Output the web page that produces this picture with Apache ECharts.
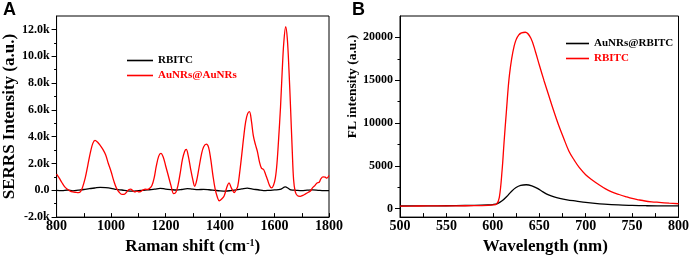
<!DOCTYPE html>
<html>
<head>
<meta charset="utf-8">
<script src="https://cdn.jsdelivr.net/npm/echarts@6/dist/echarts.min.js"></script>
<style>
  html, body { margin: 0; padding: 0; background: #fff; }
  #chart { width: 692px; height: 260px; }
</style>
</head>
<body>
<div id="chart"></div>
<script>
// ---------- panel A: SERRS spectra ----------
// AuNRs@AuNRs (red)
const shiftAuNRs = [800, 810, 820, 830, 840, 850, 860, 870, 880, 888, 895, 905, 915, 925, 933, 941, 950, 960, 970, 980,
  990, 1000, 1010, 1020, 1030, 1040, 1050, 1058, 1066, 1072, 1080, 1088, 1095, 1102, 1110, 1118, 1126, 1134, 1142, 1150,
  1158, 1166, 1175, 1183, 1192, 1200, 1210, 1220, 1230, 1238, 1246, 1254, 1262, 1270, 1276, 1283, 1292, 1300, 1307, 1315,
  1323, 1332, 1340, 1350, 1358, 1366, 1374, 1382, 1390, 1397, 1406, 1415, 1423, 1428, 1433, 1440, 1446, 1452, 1458, 1465,
  1472, 1480, 1487, 1494, 1501, 1508, 1515, 1522, 1530, 1537, 1545, 1552, 1560, 1567, 1574, 1582, 1589, 1596, 1603, 1609,
  1615, 1622, 1628, 1634, 1641, 1647, 1653, 1659, 1665, 1670, 1676, 1684, 1694, 1704, 1714, 1724, 1732, 1740, 1748, 1756,
  1764, 1770, 1778, 1786, 1792, 1800]
const serrsAuNRs = [1200, 900, 560, 250, 70, -60, -120, -150, -170, -100, 200, 900, 1900, 2900, 3500, 3730, 3600, 3350, 3050, 2650,
  2000, 1400, 700, 150, -150, -300, -280, -120, 60, 80, -30, -120, -60, -120, -80, 30, 80, 60, 150, 350,
  900, 1800, 2550, 2750, 2450, 1850, 1100, 350, -250, -150, 400, 1300, 2300, 2900, 3050, 2600, 1600, 800, 300, 800,
  1700, 2700, 3250, 3440, 3200, 2300, 1100, 100, -500, -780, -650, -420, 100, 400, 560, 250, 0, -170, 0, 300,
  1300, 2700, 4000, 5100, 5700, 5860, 5200, 4100, 3400, 2900, 2100, 1650, 1550, 1200, 800, 350, 180, 350, 900, 2000,
  3800, 6200, 8800, 11000, 12200, 11300, 9000, 6100, 3000, 800, -100, -400, -450, -380, -270, -150, -50, 200, 350, 550,
  600, 850, 1000, 980, 900, 1100]
// RBITC (black)
const shiftRBITC = [800, 820, 840, 860, 880, 900, 920, 940, 960, 980, 1000, 1020, 1040, 1060, 1080, 1100, 1120, 1140, 1160, 1180,
  1200, 1220, 1240, 1260, 1280, 1300, 1320, 1340, 1360, 1380, 1400, 1420, 1440, 1460, 1480, 1500, 1520, 1540, 1560, 1580,
  1600, 1620, 1640, 1650, 1660, 1680, 1700, 1720, 1740, 1760, 1780, 1800]
const serrsRBITC = [0, -30, 20, -40, 10, 60, 120, 170, 220, 200, 150, 60, 20, -40, -60, -20, 0, 40, 80, 150,
  90, 50, 20, 60, 120, 80, 50, 70, 40, 0, -40, -60, -20, 30, 100, 160, 80, 40, -20, 0,
  30, 60, 250, 150, 30, 0, -20, 10, 30, 0, -30, -20]
const serrsTicks = [-2000, 0, 2000, 4000, 6000, 8000, 10000, 12000]
const serrsMinorTicks = [-1000, 1000, 3000, 5000, 7000, 9000, 11000]

// ---------- panel B: fluorescence ----------
const waveRBITC = [500, 520, 540, 560, 580, 595, 600, 604, 607, 610, 612, 614.5, 618, 623, 628, 635, 641, 646, 650, 655,
  660, 665, 671, 676, 682, 688, 693, 700, 707, 714, 721, 728, 736, 743, 750, 757, 764, 771, 779, 790, 800]
const flRBITC = [280, 300, 310, 320, 340, 380, 420, 520, 1300, 4500, 7600, 11200, 15700, 19000, 20300, 20600, 19900, 18300, 16800, 15000,
  13300, 11600, 9700, 8300, 6700, 5600, 4800, 3950, 3330, 2800, 2320, 1950, 1640, 1400, 1180, 1020, 880, 790, 720, 630, 560]
const waveAuNRs = [500, 520, 540, 560, 580, 595, 600, 605, 610, 615, 620, 625, 630, 636, 642, 648, 654, 660, 666, 672,
  680, 690, 700, 710, 720, 735, 750, 765, 780, 800]
const flAuNRs = [300, 310, 320, 340, 380, 430, 470, 580, 900, 1400, 2000, 2450, 2700, 2780, 2650, 2350, 1950, 1600, 1350, 1180,
  1020, 870, 720, 600, 510, 420, 370, 330, 310, 310]
const flTicks = [0, 5000, 10000, 15000, 20000]
const flMinorTicks = [2500, 7500, 12500, 17500]

const serif = "'Liberation Serif', 'Times New Roman', serif"
const RED = '#ff0000'
const pairs = (xs, ys) => xs.map((x, i) => [x, ys[i]])

const chart = echarts.init(document.getElementById('chart'))

// 底部 x 轴
const xAxisCfg = (grid, min, max, step, labelStep, name, nameExtra) => ({
  type: 'value',
  gridIndex: grid,
  min: min,
  max: max,
  interval: step,
  axisLine: { onZero: false, lineStyle: { color: '#000', width: 1 } },
  axisTick: { inside: true, length: 4, lineStyle: { color: '#000' } },
  axisLabel: {
    formatter: v => (v % labelStep === 0 ? String(v) : ''),
    margin: 2,
    fontFamily: serif,
    fontWeight: 'bold',
    fontSize: 14,
    color: '#000'
  },
  splitLine: { show: false },
  name: name,
  nameLocation: 'middle',
  nameGap: 13,
  nameTextStyle: Object.assign({
    fontFamily: serif,
    fontWeight: 'bold',
    fontSize: 17,
    color: '#000'
  }, nameExtra || {})
})

// 左侧 y 轴（主刻度 + 标签）
const yAxisCfg = (grid, min, max, ticks, fmt, name, nameGap, nameExtra) => ({
  type: 'value',
  gridIndex: grid,
  position: 'left',
  min: min,
  max: max,
  axisLine: { show: true, onZero: false, lineStyle: { color: '#000', width: 1 } },
  axisTick: { show: true, length: 5, customValues: ticks, lineStyle: { color: '#000' } },
  axisLabel: {
    customValues: ticks,
    formatter: fmt,
    margin: 7,
    fontFamily: serif,
    fontWeight: 'bold',
    fontSize: 12,
    color: '#000'
  },
  splitLine: { show: false },
  name: name,
  nameLocation: 'middle',
  nameGap: nameGap,
  nameTextStyle: Object.assign({
    fontFamily: serif,
    fontWeight: 'bold',
    fontSize: 17,
    color: '#000'
  }, nameExtra || {})
})

// 次刻度（叠加的无标签轴）
const minorAxisCfg = (grid, min, max, ticks) => ({
  type: 'value',
  gridIndex: grid,
  position: 'left',
  min: min,
  max: max,
  axisLine: { show: false },
  axisTick: { show: true, length: 2.5, customValues: ticks, lineStyle: { color: '#000' } },
  axisLabel: { show: false },
  splitLine: { show: false }
})

const lineSeries = (name, xi, yi, data, color) => ({
  name: name,
  type: 'line',
  xAxisIndex: xi,
  yAxisIndex: yi,
  data: data,
  symbol: 'none',
  showSymbol: false,
  smooth: 0.35,
  lineStyle: { color: color, width: 1.3 },
  itemStyle: { color: color },
  z: color === RED ? 3 : 2
})

const legendCfg = (left, top, width, items) => ({
  orient: 'vertical',
  left: left,
  top: top,
  padding: 0,
  icon: 'rect',
  itemWidth: width,
  itemHeight: 1.6,
  itemGap: 4,
  selectedMode: false,
  textStyle: { fontFamily: serif, fontWeight: 'bold', fontSize: 11 },
  data: items.map(it => ({
    name: it.name,
    itemStyle: { color: it.color },
    textStyle: { color: it.color }
  }))
})

const option = {
  animation: false,
  backgroundColor: '#fff',
  title: [
    { text: 'A', left: 3, top: 1, padding: 0, textStyle: { fontFamily: "'Liberation Sans', Arial, sans-serif", fontWeight: 'bold', fontSize: 18, color: '#000' } },
    { text: 'B', left: 352, top: 1, padding: 0, textStyle: { fontFamily: "'Liberation Sans', Arial, sans-serif", fontWeight: 'bold', fontSize: 18, color: '#000' } }
  ],
  legend: [
    legendCfg(127, 55, 26, [{ name: 'RBITC', color: '#000' }, { name: 'AuNRs@AuNRs', color: RED }]),
    legendCfg(566, 38, 23, [{ name: 'AuNRs@RBITC', color: '#000' }, { name: 'RBITC', color: RED }])
  ],
  grid: [
    { left: 50, top: 16, width: 279, height: 206, show: true, borderColor: '#000', borderWidth: 1, backgroundColor: 'transparent' },
    { left: 400, top: 16, width: 280, height: 207, show: true, borderColor: '#000', borderWidth: 1, backgroundColor: 'transparent' }
  ],
  xAxis: [
    xAxisCfg(0, 800, 1800, 100, 200, '{b|Raman shift (cm}{s|-1}{b|)}', {
      rich: {
        b: { fontFamily: serif, fontWeight: 'bold', fontSize: 17, color: '#000' },
        s: { fontFamily: serif, fontWeight: 'bold', fontSize: 10, color: '#000', verticalAlign: 'top' }
      }
    }),
    xAxisCfg(1, 500, 800, 25, 50, 'Wavelength (nm)', { padding: [0, 0, 0, 12] })
  ],
  yAxis: [
    yAxisCfg(0, -2000, 13000, serrsTicks, v => (v === 0 ? '0.0' : (v / 1000).toFixed(1) + 'k'), 'SERRS Intensity (a.u.)', 31),
    minorAxisCfg(0, -2000, 13000, serrsMinorTicks),
    yAxisCfg(1, -1000, 22500, flTicks, v => String(v), 'FL intensity (a.u.)', 37, { fontSize: 13.5, padding: [0, 0, 0, 60] }),
    minorAxisCfg(1, -1000, 22500, flMinorTicks)
  ],
  series: [
    lineSeries('RBITC', 0, 0, pairs(shiftRBITC, serrsRBITC), '#000'),
    lineSeries('AuNRs@AuNRs', 0, 0, pairs(shiftAuNRs, serrsAuNRs), RED),
    lineSeries('AuNRs@RBITC', 1, 2, pairs(waveAuNRs, flAuNRs), '#000'),
    lineSeries('RBITC', 1, 2, pairs(waveRBITC, flRBITC), RED)
  ]
}

chart.setOption(option)
</script>
</body>
</html>
